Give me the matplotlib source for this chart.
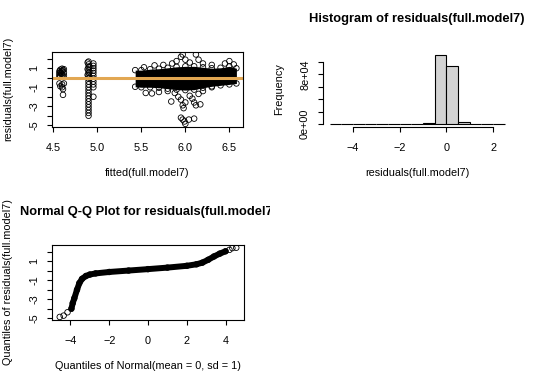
import matplotlib
matplotlib.use("Agg")
import matplotlib.pyplot as plt
from matplotlib.transforms import Bbox, TransformedBbox
from matplotlib.ticker import FixedLocator, FixedFormatter

plt.rcParams['font.family'] = ['Liberation Sans', 'DejaVu Sans']

# ---------------- data ----------------
# residuals vs fitted: individual points
pts_x = [4.57, 4.57, 4.57, 4.57, 4.58, 4.58, 4.58, 4.59, 4.60, 4.60, 4.60, 4.61, 4.61, 4.62, 4.62, 4.62,
         4.57, 4.58, 4.60, 4.60, 4.61, 4.61, 4.62,
         4.90, 4.90, 4.90, 4.90, 4.90, 4.90, 4.90, 4.90, 4.90, 4.90, 4.90, 4.90, 4.90, 4.90, 4.90, 4.90,
         4.90, 4.90, 4.90, 4.90,
         4.89, 4.89, 4.89, 4.91, 4.91, 4.91,
         4.955, 4.955, 4.955, 4.955, 4.955, 4.955, 4.955, 4.955, 4.955, 4.955, 4.955,
         5.53, 5.65, 5.75, 5.85, 5.90, 5.95, 5.97, 6.00, 6.05, 6.12, 6.15, 6.20, 6.30, 6.45, 6.50, 6.55,
         5.55, 5.62, 5.70, 5.80, 5.84, 5.88, 5.92, 5.95, 5.97, 5.98, 6.00, 6.05, 6.08, 6.10, 6.12, 6.15,
         6.17, 6.20, 5.95, 5.97, 5.99, 6.00, 6.04, 6.10, 6.30]
pts_y = [0.70, 0.50, 0.30, 0.10, 0.85, 0.60, 0.20, 0.45, 0.95, 0.70, 0.30, 0.80, 0.10, 0.90, 0.55, 0.25,
         -0.60, -0.90, -0.70, -1.00, -1.20, -1.80, -0.60,
         1.70, 1.40, 1.10, 0.80, 0.50, 0.20, -0.10, -0.40, -0.70, -1.00, -1.30, -1.60, -1.90, -2.20, -2.50, -2.80,
         -3.10, -3.40, -3.70, -4.00,
         1.60, 0.90, 0.30, 1.20, 0.60, 0.00,
         1.50, 1.25, 1.00, 0.75, 0.50, 0.20, -0.10, -0.40, -0.70, -1.00, -2.00,
         1.10, 1.30, 1.35, 1.50, 1.75, 2.20, 2.45, 1.90, 1.60, 2.45, 1.90, 1.50, 1.35, 1.50, 1.75, 1.40,
         -1.60, -1.65, -1.50, -1.40, -2.50, -1.60, -2.00, -2.30, -2.90, -3.20, -2.60, -1.90, -2.20, -2.60, -2.90, -1.70,
         -2.80, -1.40, -4.20, -4.40, -4.60, -4.85, -4.40, -4.30, -1.00]
# dense band of residuals (envelope)
band_x = [5.43, 5.50, 5.60, 5.70, 5.80, 5.90, 6.00, 6.10, 6.20, 6.30, 6.40, 6.50, 6.58]
band_hi = [0.80, 0.80, 0.90, 0.95, 1.05, 1.15, 1.20, 1.20, 1.10, 1.00, 1.05, 1.20, 1.00]
band_lo = [-0.95, -1.00, -1.00, -1.05, -1.15, -1.25, -1.30, -1.25, -1.05, -0.90, -0.80, -0.70, -0.60]

fit_xticks = [4.5, 5.0, 5.5, 6.0, 6.5]
fit_xticklabels = ['4.5', '5.0', '5.5', '6.0', '6.5']
res_yticks = [-5, -4, -3, -2, -1, 0, 1, 2]
res_yticklabels = ['-5', '', '-3', '', '-1', '', '1', '']

# histogram
hist_edges = [-5.0, -4.5, -4.0, -3.5, -3.0, -2.5, -2.0, -1.5, -1.0, -0.5, 0.0, 0.5, 1.0, 1.5, 2.0, 2.5]
hist_counts = [12, 25, 60, 110, 180, 260, 420, 700, 1100, 111300, 94000, 3200, 350, 40, 8]
hist_xticks = [-4, -2, 0, 2]
hist_yticks = [0, 20000, 40000, 60000, 80000, 100000]
hist_yticklabels = ['0e+00', '', '', '', '8e+04', '']

# Q-Q plot
qq_theo = [-4.55, -4.35, -4.15, -3.95, -3.88, -3.80, -3.66, -3.54, -3.40, -3.20, -3.00, -2.70, -2.00,
           -1.00, 0.00, 1.00, 2.00, 2.50, 2.80, 3.10, 3.40, 3.70, 4.00, 4.20, 4.35, 4.55]
qq_samp = [-4.86, -4.72, -4.37, -4.00, -3.40, -2.90, -2.00, -1.30, -0.85, -0.55, -0.40, -0.28, -0.13,
           0.02, 0.17, 0.33, 0.52, 0.68, 0.85, 1.15, 1.50, 1.80, 2.05, 2.20, 2.38, 2.42]
qq_xticks = [-4, -2, 0, 2, 4]

# ---------------- drawing ----------------
W, H = 540, 386
fig = plt.figure(figsize=(W / 100, H / 100), dpi=100)

FS = 7.8
TFS = 9.3
LW = 0.8
MS = 16


def fr(l, r, t, b):
    return [l / W, 1 - b / H, (r - l) / W, (b - t) / H]


def style_ticks(ax):
    ax.tick_params(direction='out', length=3.6, width=LW, labelsize=FS, color='black')
    ax.tick_params(axis='x', pad=8)
    ax.tick_params(axis='y', pad=5.5)
    for lab in ax.get_yticklabels():
        lab.set_rotation(90)
        lab.set_va('center')


# --- top-left: residuals vs fitted
ax1 = fig.add_axes(fr(52, 243, 51.7, 126.7))
ax1.fill_between(band_x, band_lo, band_hi, color='black', lw=0)
ax1.scatter(band_x, band_hi, s=MS, facecolors='none', edgecolors='black', linewidths=0.6)
ax1.scatter(band_x, band_lo, s=MS, facecolors='none', edgecolors='black', linewidths=0.6)
ax1.scatter(pts_x, pts_y, s=MS, facecolors='none', edgecolors='black', linewidths=0.6)
ax1.axhline(0, color='#e2a752', lw=2.2)
ax1.set_xlim(4.485, 6.655)
ax1.set_ylim(-5.15, 2.74)
ax1.xaxis.set_major_locator(FixedLocator(fit_xticks))
ax1.xaxis.set_major_formatter(FixedFormatter(fit_xticklabels))
ax1.yaxis.set_major_locator(FixedLocator(res_yticks))
ax1.yaxis.set_major_formatter(FixedFormatter(res_yticklabels))
style_ticks(ax1)
ax1.set_xlabel('fitted(full.model7)', fontsize=FS, va='center')
ax1.xaxis.set_label_coords(0.5, (126.7 - 173) / 75)
ax1.set_ylabel('residuals(full.model7)', fontsize=FS, va='center')
ax1.yaxis.set_label_coords((8 - 52) / 191, 0.5)
for s in ax1.spines.values():
    s.set_linewidth(LW)

# --- top-right: histogram
ax2 = fig.add_axes(fr(322.7, 511.7, 51.7, 126.7))
ax2.bar(hist_edges[:-1], hist_counts, width=0.5, align='edge', color='#d3d3d3',
        edgecolor='black', linewidth=0.8)
ax2.set_xlim(-5.3, 2.8)
ax2.set_ylim(-4350, 116600)
ax2.xaxis.set_major_locator(FixedLocator(hist_xticks))
ax2.yaxis.set_major_locator(FixedLocator(hist_yticks))
ax2.yaxis.set_major_formatter(FixedFormatter(hist_yticklabels))
style_ticks(ax2)
for side in ['top', 'right']:
    ax2.spines[side].set_visible(False)
ax2.spines['left'].set_bounds(0, 100000)
ax2.spines['bottom'].set_bounds(-4, 2)
ax2.spines['left'].set_linewidth(LW)
ax2.spines['bottom'].set_linewidth(LW)
ax2.set_title('Histogram of residuals(full.model7)', fontsize=TFS, fontweight='bold',
              y=1 + 24.7 / 75, va='center')
ax2.set_xlabel('residuals(full.model7)', fontsize=FS, va='center')
ax2.xaxis.set_label_coords(0.5, (126.7 - 173) / 75)
ax2.set_ylabel('Frequency', fontsize=FS, va='center')
ax2.yaxis.set_label_coords((279 - 322.7) / 189, 0.5)

# --- bottom-left: Q-Q plot
ax3 = fig.add_axes(fr(52, 244, 244.7, 319.7))
ax3.plot(qq_theo[3:-3], qq_samp[3:-3], color='black', lw=4.3, solid_capstyle='round')
ax3.scatter(qq_theo, qq_samp, s=MS, facecolors='none', edgecolors='black', linewidths=0.6)
ax3.set_xlim(-4.95, 4.95)
ax3.set_ylim(-5.15, 2.74)
ax3.xaxis.set_major_locator(FixedLocator(qq_xticks))
ax3.yaxis.set_major_locator(FixedLocator(res_yticks))
ax3.yaxis.set_major_formatter(FixedFormatter(res_yticklabels))
style_ticks(ax3)
for s in ax3.spines.values():
    s.set_linewidth(LW)
t = ax3.set_title('Normal Q-Q Plot for residuals(full.model7)', fontsize=TFS, fontweight='bold',
                  y=1 + 24 / 75, va='center')
t.set_clip_box(TransformedBbox(Bbox.from_extents(0, 0, 0.5, 1), fig.transFigure))
t.set_clip_on(True)
ax3.set_xlabel('Quantiles of Normal(mean = 0, sd = 1)', fontsize=FS, va='center')
ax3.xaxis.set_label_coords(0.5, (319.7 - 365.7) / 75)
ax3.set_ylabel('Quantiles of residuals(full.model7)', fontsize=FS, va='center')
ax3.yaxis.set_label_coords((8 - 52) / 192, 0.5)

fig.savefig('out.png', dpi=100)
